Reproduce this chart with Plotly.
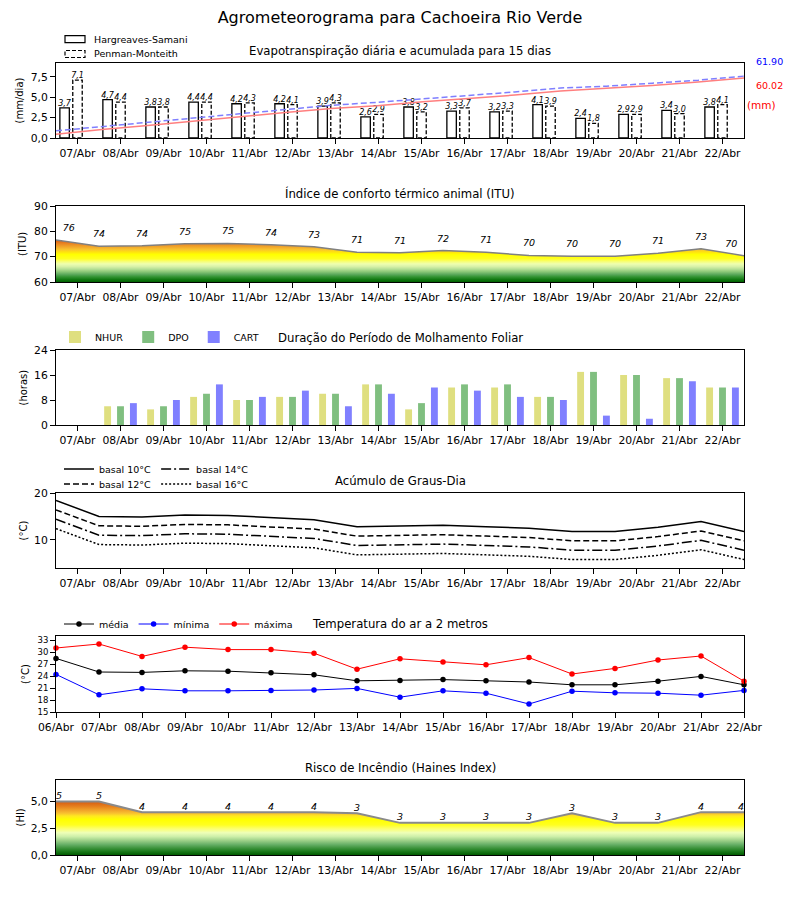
import plotly.graph_objects as go

# ---------------- data ----------------
days = ["07/Abr", "08/Abr", "09/Abr", "10/Abr", "11/Abr", "12/Abr", "13/Abr", "14/Abr",
        "15/Abr", "16/Abr", "17/Abr", "18/Abr", "19/Abr", "20/Abr", "21/Abr", "22/Abr"]
bounds = ["06/Abr"] + days

# Evapotranspiration (mm/day)
et_hs = [3.7, 4.7, 3.8, 4.4, 4.2, 4.2, 3.9, 2.6, 3.8, 3.3, 3.2, 4.1, 2.4, 2.9, 3.4, 3.8]
et_pm = [7.1, 4.4, 3.8, 4.4, 4.3, 4.1, 4.3, 2.9, 3.2, 3.7, 3.3, 3.9, 1.8, 2.9, 3.0, 4.1]
# accumulated (mm)
acc_hs = [3.8, 8.6, 12.5, 17.0, 21.3, 25.6, 29.6, 32.3, 36.2, 39.6, 42.9, 47.1, 49.6, 52.6, 56.1, 60.02]
acc_pm = [7.15, 11.6, 15.4, 19.9, 24.2, 28.4, 32.7, 35.7, 38.9, 42.7, 46.0, 50.0, 51.8, 54.8, 57.8, 61.90]

# ITU
itu = [76.6, 74.1, 74.3, 75.1, 75.2, 74.7, 73.9, 71.7, 71.5, 72.4, 71.7, 70.5, 70.2, 70.2, 71.3, 73.1, 70.4]

# Leaf wetness (hours)
nhur = [0, 6, 5, 9, 8, 9, 10, 13, 5, 12, 12, 9, 17, 16, 15, 12]
dpo = [0, 6, 6, 10, 8, 9, 10, 13, 7, 13, 13, 9, 17, 16, 15, 12]
cart = [0, 7, 8, 13, 9, 11, 6, 10, 12, 11, 9, 8, 3, 2, 14, 12]

# Degree days
gd10 = [18.4, 15.0, 14.9, 15.3, 15.2, 14.8, 14.3, 12.8, 12.9, 13.1, 12.8, 12.5, 11.8, 11.8, 12.7, 13.9, 11.8]
gd12 = [16.4, 13.0, 12.9, 13.3, 13.2, 12.8, 12.3, 10.8, 10.9, 11.1, 10.8, 10.5, 9.8, 9.8, 10.7, 11.9, 9.8]
gd14 = [14.4, 11.0, 10.9, 11.3, 11.2, 10.8, 10.3, 8.8, 8.9, 9.1, 8.8, 8.5, 7.8, 7.8, 8.7, 9.9, 7.8]
gd16 = [12.4, 9.0, 8.9, 9.3, 9.2, 8.8, 8.3, 6.8, 6.9, 7.1, 6.8, 6.5, 5.8, 5.8, 6.7, 7.9, 5.8]

# Air temperature at 2 m
t_mean = [28.4, 25.0, 24.9, 25.3, 25.2, 24.8, 24.3, 22.8, 22.9, 23.1, 22.8, 22.5, 21.8, 21.8, 22.7, 23.9, 21.8]
t_min = [24.4, 19.3, 20.8, 20.3, 20.3, 20.4, 20.5, 20.9, 18.7, 20.3, 19.7, 17.0, 20.2, 19.8, 19.7, 19.2, 20.4]
t_max = [31.0, 32.0, 28.9, 31.2, 30.6, 30.6, 29.7, 25.7, 28.3, 27.5, 26.8, 28.6, 24.5, 25.9, 28.0, 29.0, 22.7]

# Haines index
haines = [5.0, 5.0, 4.0, 4.0, 4.0, 4.0, 4.0, 3.9, 3.0, 3.0, 3.0, 3.0, 3.9, 3.0, 3.0, 4.0, 4.0]

# ---------------- styling helpers ----------------
FONT = "DejaVu Sans"
W, H = 800, 900
XDOM = [56 / W, 744 / W]
panels = [(63, 138), (206, 282), (350, 425), (493, 568), (636, 712), (780, 855)]


def ydom(p):
    t, b = p
    return [1 - b / H, 1 - t / H]


n = len(days)
centers = [i + 0.5 for i in range(n)]
edges = list(range(n + 1))

fig = go.Figure()

# ---- Panel 1: ET bars ----
bw = 0.22
fig.add_trace(go.Bar(x=[c - 0.3 for c in centers], y=et_hs, width=bw,
                     marker=dict(color="white", line=dict(color="black", width=1.3)),
                     showlegend=False, xaxis="x", yaxis="y"))
px, py = [], []
for c, v in zip(centers, et_pm):
    x0, x1 = c - bw / 2, c + bw / 2
    px += [x0, x0, x1, x1, x0, None]
    py += [0, v, v, 0, 0, None]
fig.add_trace(go.Scatter(x=px, y=py, mode="lines", fill="toself", fillcolor="white",
                         line=dict(color="black", width=1.3, dash="4px,2px"),
                         showlegend=False, xaxis="x", yaxis="y"))
lab_font = dict(family=FONT, size=8, color="black", style="italic")
fig.add_trace(go.Scatter(x=[c - 0.3 for c in centers], y=et_hs, mode="text",
                         text=[f"{v:.1f}".replace(".", ",") for v in et_hs],
                         textposition="top center", textfont=lab_font,
                         showlegend=False, cliponaxis=False, xaxis="x", yaxis="y"))
fig.add_trace(go.Scatter(x=centers, y=et_pm, mode="text",
                         text=[f"{v:.1f}".replace(".", ",") for v in et_pm],
                         textposition="top center", textfont=lab_font,
                         showlegend=False, cliponaxis=False, xaxis="x", yaxis="y"))
# accumulated lines
fig.add_trace(go.Scatter(x=list(range(n)), y=acc_hs, mode="lines",
                         line=dict(color="#ff7f7f", width=1.5),
                         showlegend=False, xaxis="x7", yaxis="y7"))
fig.add_trace(go.Scatter(x=list(range(n)), y=acc_pm, mode="lines",
                         line=dict(color="#7f7fff", width=1.5, dash="6px,3px"),
                         showlegend=False, xaxis="x7", yaxis="y7"))

# ---- Panel 2: ITU ----
itu_scale = [
    [0.0, "#006000"], [0.06, "#137a13"], [0.12, "#339433"], [0.18, "#5eaa5e"],
    [0.24, "#8cc878"], [0.30, "#b6e096"], [0.36, "#d8f2a8"], [0.42, "#eeffb0"],
    [0.48, "#f8ff70"], [0.54, "#ffff20"], [0.64, "#ffff00"], [0.70, "#ffe010"],
    [0.76, "#f8c030"], [0.83, "#f0a028"], [0.90, "#e88020"], [0.96, "#dc6414"],
    [1.0, "#d05008"]]
fig.add_trace(go.Scatter(x=edges, y=itu, mode="lines", fill="tozeroy",
                         fillgradient=dict(type="vertical", colorscale=itu_scale, start=60, stop=77),
                         line=dict(color="#808080", width=1.5),
                         showlegend=False, xaxis="x2", yaxis="y2"))
pos = ["top right"] + ["top center"] * (len(edges) - 2) + ["top left"]
val_font = dict(family=FONT, size=9.5, color="black", style="italic")
fig.add_trace(go.Scatter(x=edges, y=itu, mode="markers+text", text=[str(int(v)) for v in itu],
                         marker=dict(size=9, opacity=0),
                         textposition=pos, textfont=val_font, showlegend=False,
                         cliponaxis=False, xaxis="x2", yaxis="y2"))

# ---- Panel 3: leaf wetness ----
for vals, name, col, off in [(nhur, "NHUR", "#dfdf80", -0.3),
                             (dpo, "DPO", "#80bf80", 0.0),
                             (cart, "CART", "#8080ff", 0.3)]:
    fig.add_trace(go.Bar(x=[c + off for c in centers], y=vals, width=0.16, name=name,
                         marker=dict(color=col, line=dict(width=0)),
                         legend="legend", xaxis="x3", yaxis="y3"))

# ---- Panel 4: degree days ----
for vals, name, dash, lg in [(gd10, "basal 10°C", "solid", "legend2"),
                             (gd12, "basal 12°C", "6px,3px", "legend3"),
                             (gd14, "basal 14°C", "10px,3px,2px,3px", "legend2"),
                             (gd16, "basal 16°C", "2px,2px", "legend3")]:
    fig.add_trace(go.Scatter(x=edges, y=vals, mode="lines", name=name,
                             line=dict(color="black", width=1.5, dash=dash),
                             legend=lg, xaxis="x4", yaxis="y4"))

# ---- Panel 5: temperature ----
for vals, name, col in [(t_mean, "média", "black"), (t_min, "mínima", "blue"),
                        (t_max, "máxima", "red")]:
    fig.add_trace(go.Scatter(x=edges, y=vals, mode="lines+markers", name=name,
                             line=dict(color=col, width=1),
                             marker=dict(color=col, size=5.5),
                             cliponaxis=False, legend="legend4", xaxis="x5", yaxis="y5"))

# ---- Panel 6: Haines ----
hi_scale = [
    [0.0, "#005a00"], [0.06, "#187818"], [0.12, "#3a923a"], [0.19, "#68b068"],
    [0.26, "#9cd088"], [0.33, "#ccefa8"], [0.40, "#eeffb8"], [0.47, "#fcff70"],
    [0.54, "#ffff20"], [0.64, "#ffff00"], [0.70, "#ffe820"], [0.75, "#f8c030"],
    [0.81, "#f0a028"], [0.88, "#e47c1c"], [0.95, "#d86012"], [1.0, "#c84c08"]]
fig.add_trace(go.Scatter(x=edges, y=haines, mode="lines", fill="tozeroy",
                         fillgradient=dict(type="vertical", colorscale=hi_scale, start=0, stop=5.2),
                         line=dict(color="#8a8a8a", width=2),
                         showlegend=False, xaxis="x6", yaxis="y6"))
fig.add_trace(go.Scatter(x=edges, y=haines, mode="text", text=[str(int(v)) for v in haines],
                         textposition=pos, textfont=val_font, showlegend=False,
                         cliponaxis=False, xaxis="x6", yaxis="y6"))

# ---------------- axes ----------------
tick_font = dict(family=FONT, size=10.8, color="black")
ax_common = dict(showgrid=False, zeroline=False, showline=True, mirror=True,
                 linecolor="black", linewidth=1, ticks="outside", ticklen=5,
                 tickwidth=1, tickcolor="black", tickfont=tick_font, automargin=False,
                 fixedrange=True)

yspecs = [
    dict(range=[0, 9.2], tickvals=[0, 2.5, 5, 7.5], tickformat=".1f"),
    dict(range=[60, 90], tickvals=[60, 70, 80, 90]),
    dict(range=[0, 24], tickvals=[0, 8, 16, 24]),
    dict(range=[4, 20], tickvals=[10, 20]),
    dict(range=[15, 34], tickvals=[15, 18, 21, 24, 27, 30, 33],
         tickfont=dict(family=FONT, size=8.5, color="black")),
    dict(range=[0, 7], tickvals=[0, 2.5, 5], tickformat=".1f"),
]
layout_axes = {}
for k in range(6):
    sx = "" if k == 0 else str(k + 1)
    if k == 4:
        xs = dict(range=[0, n], tickvals=edges, ticktext=bounds)
    else:
        xs = dict(range=[0, n], tickvals=centers, ticktext=days)
    xa = dict(ax_common, domain=XDOM, anchor="y" + sx, **xs)
    ya = dict(ax_common, domain=ydom(panels[k]), anchor="x" + sx)
    ya.update(yspecs[k])
    layout_axes["xaxis" + sx] = xa
    layout_axes["yaxis" + sx] = ya
layout_axes["xaxis7"] = dict(overlaying="x", range=[0, n - 1], visible=False, anchor="y7",
                             automargin=False, fixedrange=True)
layout_axes["yaxis7"] = dict(overlaying="y", range=[0, 75], visible=False, anchor="x7",
                             automargin=False, fixedrange=True)

# ---------------- annotations ----------------
titles = ["Evapotranspiração diária e acumulada para 15 dias",
          "Índice de conforto térmico animal (ITU)",
          "Duração do Período de Molhamento Foliar",
          "Acúmulo de Graus-Dia",
          "Temperatura do ar a 2 metros",
          "Risco de Incêndio (Haines Index)"]
ylabels = [("(mm/dia)", 19), ("(ITU)", 23), ("(horas)", 23), ("(°C)", 23), ("(°C)", 25), ("(HI)", 20)]
ann = []
for k in range(6):
    t, b = panels[k]
    ann.append(dict(text=titles[k], xref="paper", yref="paper", x=0.5, y=1 - (t - 12.5) / H,
                    xanchor="center", yanchor="middle", showarrow=False,
                    font=dict(family=FONT, size=11.7, color="black")))
    lab, lx = ylabels[k]
    ann.append(dict(text=lab, xref="paper", yref="paper", x=lx / W, y=1 - (t + b) / 2 / H,
                    xanchor="center", yanchor="middle", showarrow=False, textangle=-90,
                    font=dict(family=FONT, size=10, color="black")))
ann.append(dict(text=f"{acc_pm[-1]:.2f}", xref="paper", yref="paper", x=769 / W, y=1 - 61 / H,
                showarrow=False, xanchor="center", yanchor="middle",
                font=dict(family=FONT, size=9.5, color="blue")))
ann.append(dict(text=f"{acc_hs[-1]:.2f}", xref="paper", yref="paper", x=769 / W, y=1 - 85.5 / H,
                showarrow=False, xanchor="center", yanchor="middle",
                font=dict(family=FONT, size=9.5, color="red")))
ann.append(dict(text="(mm)", xref="paper", yref="paper", x=761 / W, y=1 - 105 / H,
                showarrow=False, xanchor="center", yanchor="middle",
                font=dict(family=FONT, size=10.5, color="red")))
# manual legend for panel 1
leg_font = dict(family=FONT, size=9.5, color="black")
ann.append(dict(text="Hargreaves-Samani", xref="paper", yref="paper", x=92 / W, y=1 - 39 / H,
                showarrow=False, xanchor="left", yanchor="middle", font=leg_font))
ann.append(dict(text="Penman-Monteith", xref="paper", yref="paper", x=92 / W, y=1 - 53.7 / H,
                showarrow=False, xanchor="left", yanchor="middle", font=leg_font))
shapes = [
    dict(type="rect", xref="paper", yref="paper", x0=65 / W, x1=85 / W,
         y0=1 - 42.7 / H, y1=1 - 35.7 / H, line=dict(color="black", width=1.2), fillcolor="white"),
    dict(type="rect", xref="paper", yref="paper", x0=65 / W, x1=85 / W,
         y0=1 - 57.5 / H, y1=1 - 50.5 / H, line=dict(color="black", width=1.2, dash="4px,2px"),
         fillcolor="white"),
]

legend_base = dict(font=leg_font, bgcolor="rgba(0,0,0,0)", borderwidth=0,
                   xanchor="left", yanchor="middle", orientation="h",
                   itemclick=False, itemdoubleclick=False)

fig.update_layout(
    width=W, height=H, margin=dict(l=0, r=0, t=0, b=0, autoexpand=False),
    paper_bgcolor="white", plot_bgcolor="white",
    separators=",.",
    font=dict(family=FONT, color="black"),
    title=dict(text="Agrometeorograma para Cachoeira Rio Verde", x=0.5, xanchor="center",
               y=1 - 17 / H, yanchor="middle", automargin=False,
               font=dict(family=FONT, size=16, color="black")),
    barmode="overlay", hovermode=False,
    annotations=ann, shapes=shapes,
    legend=dict(legend_base, x=55 / W, y=1 - 337 / H),
    legend2=dict(legend_base, x=59 / W, y=1 - 469 / H),
    legend3=dict(legend_base, x=59 / W, y=1 - 484 / H),
    legend4=dict(legend_base, x=59 / W, y=1 - 624 / H),
    **layout_axes,
)

fig.write_html("out.html", config={"displayModeBar": False},
               post_script="document.body.style.margin='0px';")
